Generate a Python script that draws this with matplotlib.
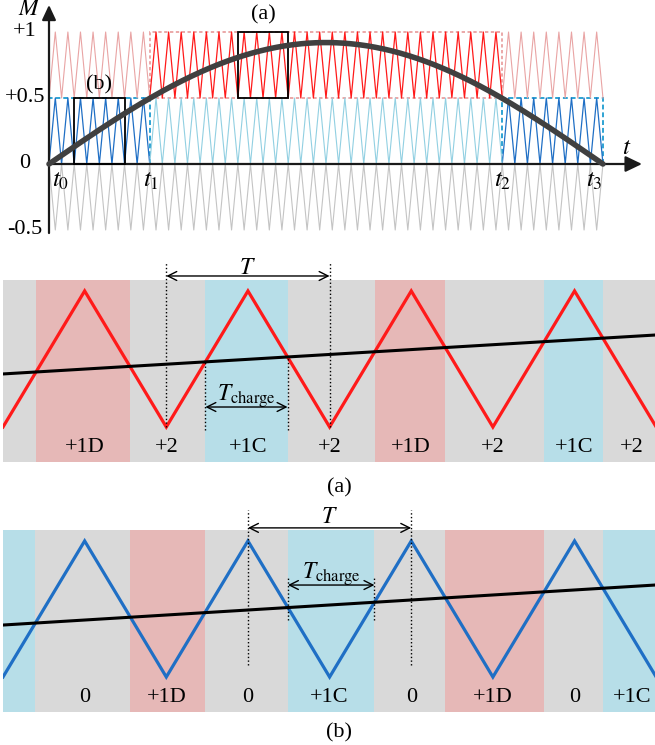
import numpy as np
import matplotlib
matplotlib.use('Agg')
import matplotlib.pyplot as plt
from matplotlib.patches import Rectangle

plt.rcParams['font.family'] = ['Liberation Serif', 'DejaVu Serif']
plt.rcParams['mathtext.fontset'] = 'stix'

W, H = 655, 745

# ---- top panel: carriers and modulating wave (time in carrier periods)
n_periods = 44
t_marks = [0, 8, 36, 44]
t_names = ['$t_0$', '$t_1$', '$t_2$', '$t_3$']
t_name_x = [0.95, 8.1, 36.05, 43.3]
m_amp = 0.92
y_ticks = [1, 0.5, 0, -0.5]
y_ticklabels = ['+1', '+0.5', '0', '-0.5']
box_a = (15, 19, 0.5, 1.0)
box_b = (2, 6, 0.0, 0.5)

# ---- zoomed panels (time in carrier periods, carrier 0..1)
ref_a = (0.39, 0.676)   # reference value at left / right edge
ref_b = (0.382, 0.676)
lbl_x = [0.5, 1, 1.5, 2, 2.5, 3, 3.5, 3.85]
lbl_a = ['+1D', '+2', '+1C', '+2', '+1D', '+2', '+1C', '+2']
lbl_b = ['0', '+1D', '0', '+1C', '0', '+1D', '0', '+1C']

pale_red = '#e9a4a4'
red = '#ff1a1a'
light_blue = '#92d0e2'
blue = '#1f6fc5'
grey_car = '#c4c4c4'
band_grey = '#d9d9d9'
band_pink = '#e6b8b7'
band_blue = '#b7dee8'


def axes_px(x0, y0, x1, y1):
    return fig.add_axes([x0 / W, 1 - y1 / H, (x1 - x0) / W, (y1 - y0) / H])


fig = plt.figure(figsize=(W / 100, H / 100), dpi=100)

# =============== top panel
ax = axes_px(0, 0, 655, 245)
ax.set_xlim(-49 / 12.59, (655 - 49) / 12.59)
ax.set_ylim((164 - 245) / 132, 164 / 132)
ax.axis('off')

tt = np.arange(0, n_periods + 0.25, 0.5)
even = (np.arange(len(tt)) % 2 == 0)
red_y = np.where(even, 0.5, 1.0)
blue_y = red_y - 0.5
grey_y = np.where(even, 0.0, -0.5)

t1, t2 = t_marks[1], t_marks[2]
outer1 = tt <= t1
outer2 = tt >= t2
inner = (tt >= t1) & (tt <= t2)
for m in (outer1, outer2):
    ax.plot(tt[m], red_y[m], color=pale_red, lw=0.8)
    ax.plot(tt[m], blue_y[m], color=blue, lw=0.9)
ax.plot(tt[inner], red_y[inner], color=red, lw=0.9)
ax.plot(tt[inner], blue_y[inner], color=light_blue, lw=0.8)
ax.plot(tt, grey_y, color=grey_car, lw=0.8)

ax.add_patch(Rectangle((t1, 0.5), t2 - t1, 0.5, fill=False, ec='#e89a9a',
                       ls=(0, (2, 1.5)), lw=1.2))
for a0, a1 in [(t_marks[0], t1), (t2, t_marks[3])]:
    ax.add_patch(Rectangle((a0, 0), a1 - a0, 0.5, fill=False, ec='#2ea3d3',
                           ls=(0, (2.5, 1.5)), lw=1.4))

# axes with arrows
ax.annotate('', xy=(0, 1.205), xytext=(0, -0.523),
            arrowprops=dict(arrowstyle='-|>,head_length=0.9,head_width=0.42',
                            lw=1.6, color='#1a1a1a', shrinkA=0, shrinkB=0,
                            mutation_scale=10))
ax.annotate('', xy=(47.1, 0), xytext=(0, 0),
            arrowprops=dict(arrowstyle='-|>,head_length=1.0,head_width=0.48',
                            lw=1.6, color='#1a1a1a', shrinkA=0, shrinkB=0,
                            mutation_scale=10))

for (b0, b1, m0, m1) in (box_a, box_b):
    ax.add_patch(Rectangle((b0, m0), b1 - b0, m1 - m0, fill=False,
                           ec='black', lw=1.3, zorder=4))

ts = np.linspace(0, n_periods, 400)
ax.plot(ts, m_amp * np.sin(np.pi * ts / n_periods), color='#404040', lw=4,
        solid_capstyle='round', zorder=5)

for v, s in zip(y_ticks, y_ticklabels):
    ax.text(-1.9, v, s, fontsize=16, ha='center', va='center')
ax.text(-1.55, 1.17, '$M$', fontsize=17, ha='center', va='center')
ax.text(45.9, 0.12, '$t$', fontsize=18, ha='center', va='center')
for x, s in zip(t_name_x, t_names):
    ax.text(x, -0.13, s, fontsize=18, ha='center', va='center')
ax.text((box_a[0] + box_a[1]) / 2, 1.13, '(a)', fontsize=16, ha='center', va='center')
ax.text((box_b[0] + box_b[1]) / 2, 0.6, '(b)', fontsize=16, ha='center', va='center')


# =============== zoomed panels
def crossings(a, b):
    rise = [(a + 2 * k) / (2 - b) for k in range(4)]
    fall = [(2 * (k + 1) - a) / (2 + b) for k in range(4)]
    return rise, fall


def zoom_panel(ax, ref, carrier_color, above_mode, labels):
    xmax = 652 / 163.3
    ax.set_xlim(0, xmax)
    ax.set_ylim(-0.316, 1.301)
    ax.axis('off')
    a = ref[0]
    b = (ref[1] - ref[0]) / xmax
    rise, fall = crossings(a, b)
    ax.fill_between([0, xmax], -0.257, 1.081, color=band_grey, lw=0)
    if above_mode:
        spans = list(zip(rise, fall))
        cols = [band_pink, band_blue, band_pink, band_blue]
    else:
        spans = [(0, rise[0])] + list(zip(fall[:3], rise[1:])) + [(fall[3], xmax)]
        cols = [band_blue, band_pink, band_blue, band_pink, band_blue]
    for (s0, s1), c in zip(spans, cols):
        ax.fill_between([s0, s1], -0.257, 1.081, color=c, lw=0)
    cx = np.arange(0, 4.01, 0.5)
    cy = np.where(np.arange(len(cx)) % 2 == 0, 0.0, 1.0)
    ax.plot(cx, cy, color=carrier_color, lw=2.3, solid_joinstyle='miter')
    ax.plot([0, xmax], [a, a + b * xmax], color='black', lw=2.2)
    for x, s in zip(lbl_x, labels):
        ax.text(x, -0.15, s, fontsize=16, ha='center', va='center')
    return rise, fall


def darrow(ax, x0, x1, y):
    ax.annotate('', xy=(x1, y), xytext=(x0, y),
                arrowprops=dict(arrowstyle='<->', lw=1.0, color='black',
                                shrinkA=0, shrinkB=0, mutation_scale=16))


ax2 = axes_px(3, 250, 655, 470)
rise, fall = zoom_panel(ax2, ref_a, red, True, lbl_a)
for x in (1, 2):
    ax2.plot([x, x], [0, 1.213], ls=':', color='black', lw=1.0)
darrow(ax2, 1, 2, 1.11)
ax2.text(1.5, 1.165, '$T$', fontsize=17, ha='center', va='center')
for x in (rise[1], fall[1]):
    ax2.plot([x, x], [-0.02, ref_a[0] + (ref_a[1] - ref_a[0]) * x / (652 / 163.3)],
             ls=':', color='black', lw=1.0)
darrow(ax2, rise[1], fall[1], 0.147)
ax2.text((rise[1] + fall[1]) / 2, 0.225, r'$T_{\mathrm{charge}}$', fontsize=17,
         ha='center', va='center')

ax3 = axes_px(3, 500, 655, 720)
rise, fall = zoom_panel(ax3, ref_b, blue, False, lbl_b)
for x in (1.5, 2.5):
    ax3.plot([x, x], [0.088, 1.228], ls=':', color='black', lw=1.0)
darrow(ax3, 1.5, 2.5, 1.096)
ax3.text(2.0, 1.17, '$T$', fontsize=17, ha='center', va='center')
for x in (fall[1], rise[2]):
    ax3.plot([x, x], [0.42, 0.73], ls=':', color='black', lw=1.0)
darrow(ax3, fall[1], rise[2], 0.676)
ax3.text((fall[1] + rise[2]) / 2, 0.755, r'$T_{\mathrm{charge}}$', fontsize=17,
         ha='center', va='center')

fig.text(339 / W, 1 - 488 / H, '(a)', fontsize=16, ha='center', va='center')
fig.text(339 / W, 1 - 733 / H, '(b)', fontsize=16, ha='center', va='center')

fig.savefig('out.png', dpi=100)
